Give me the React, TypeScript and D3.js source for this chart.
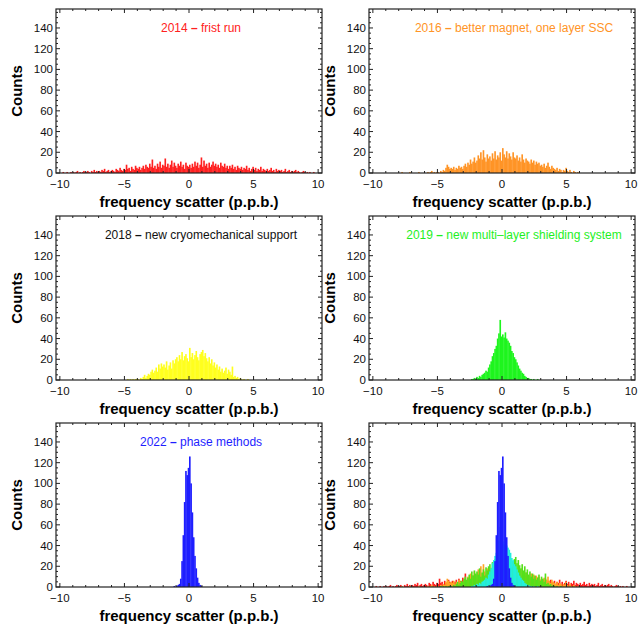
import React from 'react';
import * as d3 from 'd3';

// histogram bin width (p.p.b.)
const BIN = 0.1;

// 2014 - frist run, bins from -10.0
const start2014 = -10;
const counts2014 = [
  0, 0, 1, 0, 0, 1, 0, 0, 1, 0,
  1, 0, 1, 2, 0, 1, 0, 1, 2, 1,
  1, 2, 1, 0, 2, 1, 3, 1, 2, 1,
  2, 1, 3, 2, 4, 1, 2, 3, 1, 2,
  3, 2, 1, 4, 3, 2, 5, 3, 2, 4,
  3, 8, 4, 5, 2, 6, 4, 3, 7, 5,
  4, 6, 3, 5, 7, 4, 8, 6, 5, 9,
  6, 13, 5, 7, 4, 9, 6, 11, 5, 8,
  7, 14, 6, 9, 5, 8, 12, 6, 10, 7,
  5, 9, 7, 11, 6, 8, 4, 10, 7, 6,
  8, 5, 9, 6, 11, 7, 10, 5, 8, 15,
  6, 12, 7, 9, 5, 10, 6, 8, 11, 7,
  9, 6, 8, 5, 10, 7, 6, 9, 5, 7,
  4, 7, 5, 8, 4, 6, 3, 7, 5, 4,
  6, 3, 5, 4, 7, 3, 5, 2, 4, 6,
  3, 5, 2, 4, 3, 6, 2, 4, 3, 2,
  4, 2, 3, 5, 2, 3, 1, 4, 2, 3,
  2, 3, 1, 2, 4, 1, 2, 3, 1, 2,
  1, 2, 3, 1, 2, 1, 0, 1, 2, 1,
  0, 1, 0, 1, 0, 0, 1, 0, 0, 0,
];

// 2016 - better magnet, one layer SSC, bins from -8.0
const start2016 = -8;
const counts2016 = [
  0, 0, 1, 0, 0, 0, 0, 0, 1, 0,
  0, 0, 0, 0, 0, 1, 0, 0, 0, 0,
  0, 0, 1, 0, 1, 2, 0, 1, 0, 1,
  1, 0, 2, 1, 3, 2, 5, 8, 6, 4,
  5, 4, 6, 3, 5, 4, 7, 5, 6, 4,
  7, 9, 6, 10, 8, 13, 9, 11, 15, 10,
  12, 17, 14, 20, 13, 22, 15, 11, 18, 14,
  16, 12, 19, 14, 21, 13, 17, 15, 20, 12,
  24, 18, 15, 21, 14, 19, 16, 13, 20, 15,
  14, 17, 12, 15, 11, 18, 13, 10, 14, 12,
  11, 9, 13, 10, 12, 8, 11, 9, 10, 7,
  8, 6, 9, 5, 7, 10, 6, 4, 7, 5,
  4, 3, 5, 2, 4, 3, 1, 3, 2, 5,
  2, 1, 3, 1, 0, 2, 1, 0, 1, 0,
];

// 2018 - new cryomechanical support, bins from -5.0
const start2018 = -5;
const counts2018 = [
  0, 0, 1, 0, 1, 0, 1, 0, 1, 1,
  1, 0, 2, 1, 3, 5, 2, 4, 6, 5,
  8, 10, 7, 9, 12, 8, 15, 11, 16, 13,
  15, 12, 18, 10, 14, 17, 11, 19, 16, 20,
  22, 18, 24, 20, 27, 19, 23, 25, 21, 18,
  31, 22, 26, 20, 24, 28, 22, 19, 25, 27,
  29, 23, 26, 21, 18, 22, 16, 20, 14, 17,
  12, 15, 10, 13, 8, 11, 7, 9, 12, 6,
  10, 8, 5, 13, 3, 4, 2, 3, 1, 2,
  1, 0, 1, 0, 0, 1, 0, 0, 0, 0,
];

// 2019 - new multi-layer shielding system, bins from -2.5
const start2019 = -2.5;
const counts2019 = [
  0, 1, 1, 2, 1,
  3, 2, 4, 3, 5,
  6, 7, 9, 8, 12,
  15, 18, 23, 26, 30,
  33, 40, 45, 58, 42,
  44, 41, 46, 40, 38,
  36, 33, 28, 26, 22,
  20, 17, 14, 11, 9,
  7, 6, 4, 3, 2,
  2, 1, 1, 0, 1,
  0, 0, 1, 0, 0,
];

// 2022 - phase methods, bins from -1.2
const start2022 = -1.2;
const counts2022 = [
  1, 0, 1, 2, 3, 8, 25, 50, 82, 112, 108,
  115, 126, 100, 72, 48, 30, 18, 9, 4, 2, 1,
];

const xMajorTicks = [-10, -5, 0, 5, 10];
const xMinorTicks = d3.range(-10, 11, 1);
const yMajorTicks = [0, 20, 40, 60, 80, 100, 120, 140];
const yMinorTicks = d3.range(0, 156, 5);

const FONT = '"Liberation Sans", Arial, Helvetica, sans-serif';
const PW = 266;
const PH = 164;
const COL_X = [56, 369];
const ROW_Y = [9, 216, 423];

type Hist = { start: number; counts: number[]; color: string };

const hist = (start: number, counts: number[], color: string): Hist => ({ start, counts, color });

const panels = [
  { year: '2014', label: 'frist run', color: '#ff2020', hists: [hist(start2014, counts2014, '#ff2020')] },
  { year: '2016', label: 'better magnet, one layer SSC', color: '#ff9426', hists: [hist(start2016, counts2016, '#ff9426')] },
  { year: '2018', label: 'new cryomechanical support', color: '#111', hists: [hist(start2018, counts2018, '#ffff1e')] },
  { year: '2019', label: 'new multi\u2013layer shielding system', color: '#1ef01e', hists: [hist(start2019, counts2019, '#1ef51e')] },
  { year: '2022', label: 'phase methods', color: '#1e1eff', hists: [hist(start2022, counts2022, '#1e1eff')] },
  {
    year: null, label: null, color: '#000',
    hists: [
      hist(start2014, counts2014, '#ff2020'),
      hist(start2016, counts2016, '#ffa526'),
      hist(start2018, counts2018, '#55e01a'),
      hist(start2019, counts2019, '#22eedd'),
      hist(start2022, counts2022, '#1e1eff'),
    ],
  },
];

function Panel({ left, top, p }: { left: number; top: number; p: any }) {
  const x = d3.scaleLinear().domain([-10.3, 10.3]).range([left, left + PW]);
  const y = d3.scaleLinear().domain([0, 158.3]).range([top + PH, top]);
  const bottom = top + PH;
  const right = left + PW;
  const fmt = (v: number) => (v < 0 ? '\u2212' + Math.abs(v) : String(v));

  return (
    <g>
      {p.hists.map((h: Hist, k: number) => (
        <g key={k}>
          {h.counts.map((c, i) => {
            if (c <= 0) return null;
            const x0 = h.start + i * BIN;
            // slight overlap so neighbouring bins don't leave hairline gaps
            return (
              <rect key={i} x={x(x0)} width={x(x0 + BIN) - x(x0) + 0.35} y={y(c)} height={y(0) - y(c)} fill={h.color} />
            );
          })}
        </g>
      ))}

      {/* frame ticks */}
      {xMinorTicks.map((t) => {
        const len = xMajorTicks.includes(t) ? 4 : 2;
        return (
          <g key={'xt' + t} stroke="#222" strokeWidth={1}>
            <line x1={x(t)} x2={x(t)} y1={bottom} y2={bottom - len} />
            <line x1={x(t)} x2={x(t)} y1={top} y2={top + len} />
          </g>
        );
      })}
      {yMinorTicks.map((t) => {
        const len = yMajorTicks.includes(t) ? 4 : 2;
        return (
          <g key={'yt' + t} stroke="#222" strokeWidth={1}>
            <line x1={left} x2={left + len} y1={y(t)} y2={y(t)} />
            <line x1={right} x2={right - len} y1={y(t)} y2={y(t)} />
          </g>
        );
      })}
      <rect x={left} y={top} width={PW} height={PH} fill="none" stroke="#222" strokeWidth={1.2} />

      {xMajorTicks.map((t) => (
        <text key={'xl' + t} x={x(t)} y={bottom + 15} textAnchor="middle" fontSize={11.5} fill="#111">{fmt(t)}</text>
      ))}
      {yMajorTicks.map((t) => (
        <text key={'yl' + t} x={left - 3} y={y(t) + 4} textAnchor="end" fontSize={11.5} fill="#111">{t}</text>
      ))}

      <text x={(left + right) / 2} y={bottom + 34} textAnchor="middle" fontSize={15} fontWeight="bold" fill="#000">
        frequency scatter (p.p.b.)
      </text>
      <text transform={`translate(${left - 34},${(top + bottom) / 2}) rotate(-90)`} textAnchor="middle"
        fontSize={15} fontWeight="bold" fill="#000">Counts</text>

      {p.year && (
        <text x={x(0.93)} y={y(140) + 4} textAnchor="middle" fontSize={12} fill={p.color}>
          {p.year + ' '}<tspan fontWeight="bold">{'\u2013'}</tspan>{' ' + p.label}
        </text>
      )}
    </g>
  );
}

export default function App() {
  return (
    <div style={{ position: 'absolute', left: 0, top: 0 }}>
      <svg width={642} height={628} style={{ display: 'block', background: '#fff', fontFamily: FONT }}>
        {panels.map((p, i) => (
          <Panel key={i} left={COL_X[i % 2]} top={ROW_Y[Math.floor(i / 2)]} p={p} />
        ))}
      </svg>
    </div>
  );
}
